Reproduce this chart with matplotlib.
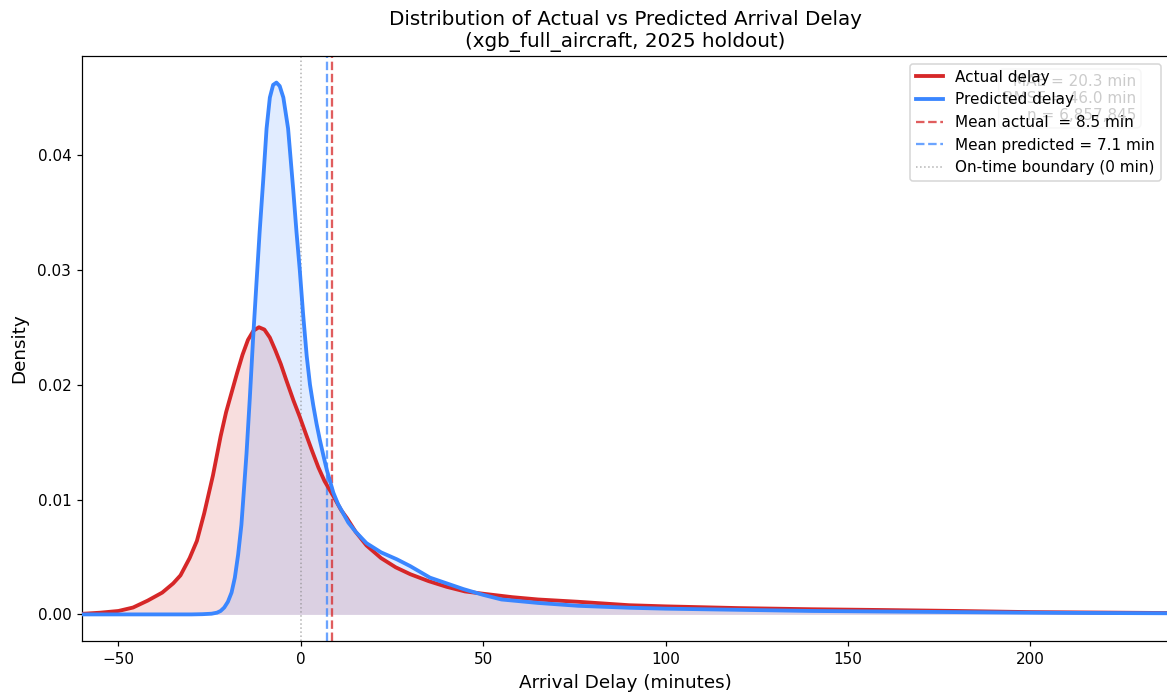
import matplotlib
matplotlib.use("Agg")
import matplotlib.pyplot as plt

# Density curves (x in minutes, y density)
actual_x = [-60, -55, -50, -46, -42, -38, -35, -33, -30.5, -28.5, -26.5, -24.1, -22,
            -20.5, -19, -17.5, -16, -14.5, -13, -11.5, -10, -8.5, -7, -5.5, -4, -2,
            -0.3, 1.5, 3, 4.8, 6.5, 8.9, 11, 12.6, 15, 18, 22, 26, 30, 35, 40, 45, 50,
            58, 65, 76, 90, 100, 120, 140, 160, 180, 200, 220, 238]
actual_y = [0.00005, 0.00015, 0.0003, 0.0006, 0.0012, 0.0019, 0.0027, 0.0034, 0.0049,
            0.0064, 0.0088, 0.0121, 0.0155, 0.0176, 0.0193, 0.0210, 0.0226, 0.0239,
            0.0247, 0.0250, 0.0248, 0.0241, 0.0230, 0.0218, 0.0204, 0.0186, 0.0172,
            0.0156, 0.0143, 0.0128, 0.0116, 0.0103, 0.0091, 0.0084, 0.0072, 0.0060,
            0.0049, 0.0041, 0.0035, 0.0029, 0.0024, 0.0020, 0.0018, 0.0015, 0.0013,
            0.0011, 0.0008, 0.0007, 0.00055, 0.00045, 0.00038, 0.0003, 0.0002,
            0.00016, 0.00012]

pred_x = [-60, -30, -27, -24.5, -23, -22, -21, -20, -19, -18.1, -17.2, -16.3, -15.8,
          -14.9, -14.0, -13.1, -12.2, -11.3, -10.3, -9.4, -8.5, -7.6, -6.7, -5.8, -4.8,
          -3.5, -2.1, -1.2, -0.3, 0.6, 1.6, 2.5, 3.4, 4.3, 5.2, 6.2, 7.1, 8.0, 8.9,
          10.2, 11.6, 13, 15, 18, 22, 26.3, 30, 35.4, 40, 44.6, 50, 55, 60, 65, 76,
          90, 100, 120, 140, 160, 180, 200, 220, 238]
pred_y = [0.0, 0.0, 0.00002, 0.00006, 0.00015, 0.0003, 0.0006, 0.0011, 0.0019, 0.0032,
          0.0052, 0.0078, 0.0100, 0.0140, 0.0188, 0.0240, 0.0287, 0.0333, 0.0379,
          0.0423, 0.0450, 0.0461, 0.0463, 0.0460, 0.0450, 0.0423, 0.0370, 0.0333,
          0.0300, 0.0262, 0.0225, 0.0200, 0.0182, 0.0166, 0.0152, 0.0138, 0.0126,
          0.0116, 0.0106, 0.0096, 0.0088, 0.0080, 0.0072, 0.0062, 0.0054, 0.0048,
          0.0042, 0.0032, 0.0027, 0.0022, 0.0017, 0.0013, 0.00115, 0.0010, 0.00075,
          0.00058, 0.0005, 0.0004, 0.0003, 0.00025, 0.0002, 0.00015, 0.00012, 0.0001]

mean_actual = 8.5
mean_pred = 7.1
mae = 20.3
rmse = 46.0
n_obs = 6857845
x_range = (-60, 238)

RED = "#d62728"
BLUE = "#3a86ff"

DPI = 110
fig = plt.figure(figsize=(1167 / DPI, 698 / DPI), dpi=DPI)
ax = fig.add_axes([82 / 1167, 57 / 698, 1087 / 1167, 585 / 698])

ax.plot(actual_x, actual_y, color=RED, lw=2.5, label="Actual delay", zorder=3,
        solid_joinstyle="round")
ax.fill_between(actual_x, actual_y, color=RED, alpha=0.15, lw=0)
ax.plot(pred_x, pred_y, color=BLUE, lw=2.5, label="Predicted delay", zorder=3,
        solid_joinstyle="round")
ax.fill_between(pred_x, pred_y, color=BLUE, alpha=0.15, lw=0)

ax.axvline(mean_actual, color=RED, ls="--", lw=1.5, alpha=0.75,
           label=f"Mean actual  = {mean_actual:.1f} min")
ax.axvline(mean_pred, color=BLUE, ls="--", lw=1.5, alpha=0.75,
           label=f"Mean predicted = {mean_pred:.1f} min")
ax.axvline(0, color="gray", ls=":", lw=1, alpha=0.6,
           label="On-time boundary (0 min)")

ax.text(0.97, 0.97, f"MAE = {mae:.1f} min\nRMSE = {rmse:.1f} min\nn = {n_obs:,}",
        transform=ax.transAxes, ha="right", va="top", fontsize=10,
        bbox=dict(boxstyle="round", facecolor="white", alpha=0.8, edgecolor="#cccccc"))

ax.set_xlim(*x_range)
ax.set_xlabel("Arrival Delay (minutes)", fontsize=12, labelpad=5)
ax.set_ylabel("Density", fontsize=12, labelpad=6)
ax.set_title("Distribution of Actual vs Predicted Arrival Delay\n(xgb_full_aircraft, 2025 holdout)",
             fontsize=13)
ax.tick_params(labelsize=10)
ax.legend(loc="upper right", fontsize=10, handlelength=1.8)

fig.savefig("out.png", dpi=DPI)
